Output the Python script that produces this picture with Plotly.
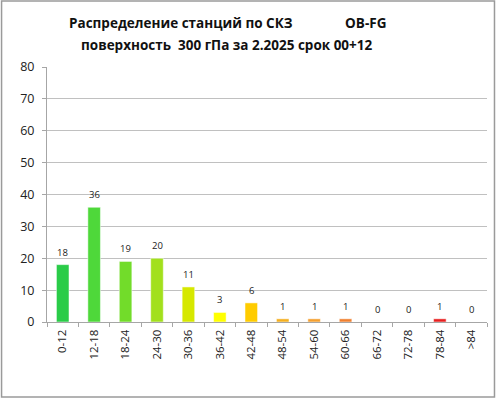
import plotly.graph_objects as go

categories = ["0-12", "12-18", "18-24", "24-30", "30-36", "36-42", "42-48",
              "48-54", "54-60", "60-66", "66-72", "72-78", "78-84", ">84"]
counts = [18, 36, 19, 20, 11, 3, 6, 1, 1, 1, 0, 0, 1, 0]
colors = ["#2ACC48", "#4ED83A", "#72DC2A", "#A2E01C", "#D6E800", "#FFFF00", "#FFCC00",
          "#F5B020", "#F5A030", "#F08030", "#F08030", "#F08030", "#E82020", "#E82020"]
y_ticks = [0, 10, 20, 30, 40, 50, 60, 70, 80]
title_lines = ["Распределение станций по СКЗ               OB-FG",
               "поверхность  300 гПа за 2.2025 срок 00+12"]

W, H = 496, 399
ml, mr, mt, mb = 46.5, 9, 67, 77
pw, ph = W - ml - mr, H - mt - mb


def px_x(x):
    return (x - ml) / pw


def px_y(y):
    return (H - mb - y) / ph


fig = go.Figure()
fig.add_trace(go.Bar(
    x=categories, y=counts,
    marker=dict(color=colors, line=dict(color="rgba(255,255,255,0.5)", width=1)),
    cliponaxis=False,
))

for c, v in zip(categories, counts):
    fig.add_annotation(
        x=c, y=v, text=str(v), showarrow=False,
        yanchor="bottom", yshift=4,
        font=dict(family="Open Sans, sans-serif", size=9.5, color="#222222"),
    )

for line, yc in zip(title_lines, [23.5, 44.5]):
    fig.add_annotation(
        xref="paper", yref="paper", x=px_x(227), y=px_y(yc),
        xanchor="center", yanchor="middle", showarrow=False,
        text="<b>" + line + "</b>",
        font=dict(family="Open Sans, sans-serif", size=13.5, color="#111111"),
    )

fig.update_layout(
    width=W, height=H,
    margin=dict(l=ml, r=mr, t=mt, b=mb),
    paper_bgcolor="white", plot_bgcolor="white",
    bargap=0.6,
    showlegend=False,
    font=dict(family="Open Sans, sans-serif", color="#222222"),
    xaxis=dict(
        type="category", tickangle=-90,
        tickfont=dict(size=11.5, color="#222222"),
        showline=True, linecolor="#a6a6a6", linewidth=1,
        ticks="outside", ticklen=4, tickcolor="#a6a6a6",
        tickson="boundaries", showgrid=False,
        ticklabelstandoff=2,
    ),
    yaxis=dict(
        range=[0, 80], tickvals=y_ticks,
        tickfont=dict(size=12.5, color="#222222"),
        showgrid=True, gridcolor="#c0c0c0", gridwidth=1,
        showline=True, linecolor="#a6a6a6", linewidth=1,
        ticks="outside", ticklen=4, tickcolor="#a6a6a6",
        zeroline=False, ticklabelstandoff=5,
    ),
    shapes=[dict(
        type="rect", xref="paper", yref="paper",
        x0=px_x(1), x1=px_x(W - 1.5),
        y0=px_y(H - 2), y1=px_y(1),
        line=dict(color="#9a9a9a", width=1.5), fillcolor="rgba(0,0,0,0)",
        layer="above",
    )],
)

fig.write_html(
    "out.html",
    config={"displayModeBar": False},
    post_script="document.body.style.margin='0';document.body.style.overflow='hidden';",
)
